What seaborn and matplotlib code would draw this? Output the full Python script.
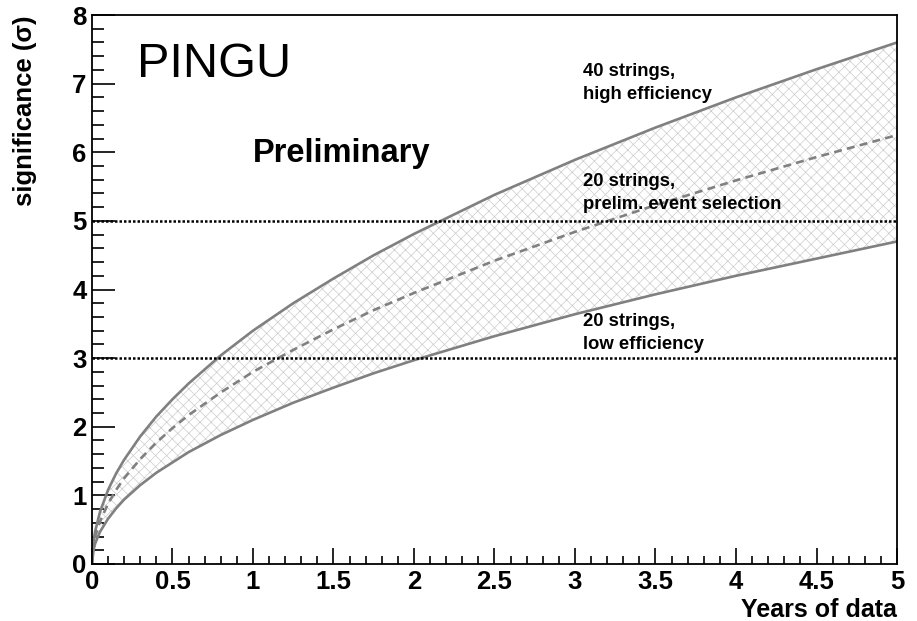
import numpy as np
import pandas as pd
import matplotlib
matplotlib.use("Agg")
import matplotlib.pyplot as plt
import seaborn as sns

# Data
years = [0, 0.01, 0.02, 0.05, 0.1, 0.15, 0.2, 0.3, 0.4, 0.5, 0.6, 0.8, 1.0,
         1.25, 1.5, 1.75, 2.0, 2.5, 3.0, 3.5, 4.0, 4.5, 5.0]
sig_high = [0, 0.34, 0.48, 0.76, 1.08, 1.32, 1.52, 1.86, 2.15, 2.40, 2.63, 3.04,
            3.40, 3.80, 4.16, 4.50, 4.81, 5.38, 5.89, 6.36, 6.80, 7.21, 7.60]
sig_mid = [0, 0.28, 0.40, 0.62, 0.88, 1.08, 1.25, 1.53, 1.77, 1.98, 2.17, 2.50,
           2.80, 3.12, 3.42, 3.70, 3.95, 4.42, 4.84, 5.23, 5.59, 5.93, 6.25]
sig_low = [0, 0.21, 0.30, 0.47, 0.66, 0.81, 0.94, 1.15, 1.33, 1.48, 1.63, 1.88,
           2.10, 2.35, 2.57, 2.78, 2.97, 3.32, 3.64, 3.93, 4.20, 4.45, 4.70]
thresholds = [3, 5]
x_ticks = [0, 0.5, 1, 1.5, 2, 2.5, 3, 3.5, 4, 4.5, 5]
x_ticklabels = ["0", "0.5", "1", "1.5", "2", "2.5", "3", "3.5", "4", "4.5", "5"]
y_ticks = [0, 1, 2, 3, 4, 5, 6, 7, 8]
labels = ["40 strings,\nhigh efficiency",
          "20 strings,\nprelim. event selection",
          "20 strings,\nlow efficiency"]

sns.set_style("white")
plt.rcParams['font.family'] = ['Liberation Sans', 'DejaVu Sans']
plt.rcParams['hatch.color'] = '#cccccc'
plt.rcParams['hatch.linewidth'] = 0.5
plt.rcParams['text.color'] = 'black'
plt.rcParams['axes.labelcolor'] = 'black'
plt.rcParams['xtick.color'] = 'black'
plt.rcParams['ytick.color'] = 'black'

df = pd.DataFrame({"years": years, "high": sig_high, "mid": sig_mid, "low": sig_low})

fig = plt.figure(figsize=(9.17, 6.21), dpi=100)
ax = fig.add_axes([0.1003, 0.0918, 0.8779, 0.884])

ax.fill_between(df["years"], df["low"], df["high"], facecolor="none",
                edgecolor="#cccccc", hatch="xxx", linewidth=0)

gray = "#808080"
sns.lineplot(data=df, x="years", y="high", ax=ax, color=gray, lw=1.9)
sns.lineplot(data=df, x="years", y="low", ax=ax, color=gray, lw=1.9)
sns.lineplot(data=df, x="years", y="mid", ax=ax, color=gray, lw=1.9,
             linestyle=(0, (3, 2)))

for t in thresholds:
    ax.axhline(t, color="black", lw=1.8, linestyle=(0, (1, 0.8)))

ax.set_xlim(0, 5)
ax.set_ylim(0, 8)
ax.set_xticks(x_ticks)
ax.set_xticklabels(x_ticklabels)
ax.set_yticks(y_ticks)
ax.set_xticks(np.arange(0, 5.001, 0.1), minor=True)
ax.set_yticks(np.arange(0, 8.001, 0.2), minor=True)

ax.tick_params(axis="both", which="both", direction="in", color="black",
               labelcolor="black", labelsize=18.5, width=1.2, top=False,
               right=False, pad=4)
ax.tick_params(axis="y", which="major", length=16.5, left=True)
ax.tick_params(axis="y", which="minor", length=8.5, left=True)
ax.tick_params(axis="x", which="major", length=11.5, bottom=True)
ax.tick_params(axis="x", which="minor", length=5.8, bottom=True)
for lab in ax.get_xticklabels() + ax.get_yticklabels():
    lab.set_fontweight("bold")

for s in ax.spines.values():
    s.set_color("black")
    s.set_linewidth(1.3)

ax.set_xlabel("Years of data", fontsize=18, fontweight="bold", loc="right",
              color="black")
ax.set_ylabel("significance (σ)", fontsize=18.5, fontweight="bold", loc="top",
              color="black")
ax.xaxis.set_label_coords(1.0, -0.062)
ax.yaxis.set_label_coords(-0.068, 1.0)

ax.text(0.28, 7.1, "PINGU", fontsize=35, ha="left", va="baseline", color="black")
ax.text(1.0, 5.86, "Preliminary", fontsize=23.5, fontweight="bold",
        ha="left", va="baseline", color="black")

label_y = [7.3, 5.7, 3.66]
for txt, yy in zip(labels, label_y):
    ax.text(3.05, yy, txt, fontsize=13.3, fontweight="bold", ha="left",
            va="top", linespacing=1.45, color="black")

fig.savefig("out.png", dpi=100)
